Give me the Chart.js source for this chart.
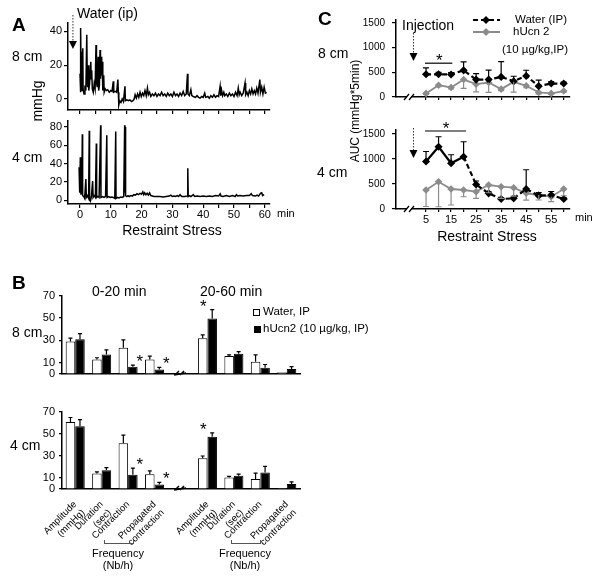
<!DOCTYPE html>
<html>
<head>
<meta charset="utf-8">
<script src="https://cdn.jsdelivr.net/npm/chart.js@4.4.1/dist/chart.umd.min.js"></script>
<style>
body { margin: 0; background: #fff; }
#fig { position: relative; width: 600px; height: 577px; overflow: hidden; font-family: 'Liberation Sans', Arial, sans-serif; color: #000; }
#fig canvas { position: absolute; }
.t { position: absolute; white-space: nowrap; line-height: 1; transform: translateY(-50%); }
.ct { transform: translate(-50%, -50%); }
.rot { transform: translate(-50%, -50%) rotate(-90deg); }
.L { font-weight: bold; font-size: 19px; }
.brk { position: absolute; height: 3px; border: 1px solid #555; border-top: none; }
</style>
</head>
<body>
<div id="fig">
  <canvas id="a8" width="300" height="130" style="left:0;top:0"></canvas>
  <canvas id="a4" width="300" height="130" style="left:0;top:112px"></canvas>
  <canvas id="b8" width="310" height="100" style="left:0;top:285px"></canvas>
  <canvas id="b4" width="310" height="177" style="left:0;top:400px"></canvas>
  <canvas id="c8" width="300" height="110" style="left:300px;top:0"></canvas>
  <canvas id="c4" width="300" height="140" style="left:300px;top:110px"></canvas>

  <!-- panel A -->
  <div class="t L" style="left:12px;top:24px">A</div>
  <div class="t" style="left:77px;top:13px;font-size:14px">Water (ip)</div>
  <div class="t" style="left:12px;top:56px;font-size:14px">8 cm</div>
  <div class="t" style="left:12px;top:157px;font-size:14px">4 cm</div>
  <div class="t rot" style="left:37px;top:101px;font-size:14px">mmHg</div>
  <div class="t ct" style="left:172px;top:230px;font-size:14px">Restraint Stress</div>
  <div class="t" style="left:277px;top:213px;font-size:11px">min</div>

  <!-- panel B -->
  <div class="t L" style="left:12px;top:282px">B</div>
  <div class="t" style="left:92px;top:291px;font-size:14px">0-20 min</div>
  <div class="t" style="left:200px;top:291px;font-size:14px">20-60 min</div>
  <div class="t" style="left:12px;top:332px;font-size:14px">8 cm</div>
  <div class="t" style="left:10px;top:445px;font-size:14px">4 cm</div>
  <div style="position:absolute;left:253px;top:309px;width:5px;height:5px;border:1px solid #000"></div>
  <div class="t" style="left:263px;top:312px;font-size:11.5px">Water, IP</div>
  <div style="position:absolute;left:254px;top:326px;width:7px;height:7px;background:#000"></div>
  <div class="t" style="left:263px;top:329px;font-size:11.5px">hUcn2 (10 µg/kg, IP)</div>
  <div class="brk" style="left:104px;top:540px;width:28px"></div>
  <div class="t ct" style="left:118px;top:553px;font-size:11px">Frequency</div>
  <div class="t ct" style="left:118px;top:565px;font-size:11px">(Nb/h)</div>
  <div class="brk" style="left:231px;top:540px;width:28px"></div>
  <div class="t ct" style="left:245px;top:553px;font-size:11px">Frequency</div>
  <div class="t ct" style="left:245px;top:565px;font-size:11px">(Nb/h)</div>

  <!-- panel C -->
  <div class="t L" style="left:318px;top:18px">C</div>
  <div class="t" style="left:402px;top:25px;font-size:14px">Injection</div>
  <div class="t" style="left:318px;top:53px;font-size:14px">8 cm</div>
  <div class="t" style="left:317px;top:172px;font-size:14px">4 cm</div>
  <div class="t rot" style="left:355px;top:111px;font-size:12px">AUC (mmHg*5min)</div>
  <div class="t ct" style="left:487px;top:236px;font-size:14px">Restraint Stress</div>
  <div class="t" style="left:575px;top:217px;font-size:11px">min</div>
  <svg style="position:absolute;left:470px;top:12px" width="34" height="26">
    <line x1="3" y1="8" x2="30" y2="8" stroke="#000" stroke-width="2" stroke-dasharray="5,3"/>
    <polygon points="16,4 20,8 16,12 12,8" fill="#000"/>
    <line x1="3" y1="20" x2="30" y2="20" stroke="#8c8c8c" stroke-width="2"/>
    <polygon points="16,16 20,20 16,24 12,20" fill="#8c8c8c"/>
  </svg>
  <div class="t" style="left:515px;top:20px;font-size:11.5px">Water (IP)</div>
  <div class="t" style="left:513px;top:32px;font-size:11.5px">hUcn 2</div>
  <div class="t" style="left:502px;top:50px;font-size:11.5px">(10 µg/kg,IP)</div>
</div>

<script>
// ---- panel A: manometry traces, [min, mmHg]
const trace8cm = [
  [0, 15], [0.1, 4], [0.3, 42], [0.4, 8], [0.6, 28], [0.7, 5], [0.9, 30], [1.0, 6], [1.3, 3], [1.6, 8],
  [1.9, 5], [2.2, 38], [2.35, 10], [2.5, 7], [2.7, 20], [2.85, 5], [3.1, 9], [3.5, 22], [3.65, 12], [3.8, 17],
  [4.0, 6], [4.3, 4], [4.6, 9], [4.9, 6], [5.2, 32], [5.35, 10], [5.6, 7], [5.9, 25], [6.05, 5], [6.3, 8],
  [6.5, 29], [6.65, 12], [6.9, 25], [7.05, 14], [7.2, 22], [7.4, 5], [7.7, 14], [7.85, 4], [8.2, 6], [8.6, 5],
  [9.0, 5.5], [9.5, 4], [10.0, 5], [10.4, 4.5], [10.8, 10.5], [10.95, 4], [11.4, 4.5], [11.9, 4], [12.3, 11.5], [12.45, 4],
  [12.6, -3.5], [12.9, -1], [13.3, -2], [13.7, 0], [14.1, -1.5], [14.6, 7.5], [14.75, -1], [15.2, -0.5], [15.7, -1], [16.2, -0.5],
  [16.7, -1.5], [17.2, -1], [17.6, 0], [17.9, 2.5], [18.3, 0.5], [18.7, 3], [19.1, 1], [19.5, 4], [19.9, 1.5], [20.3, 3.5],
  [20.7, 2], [21.1, 5], [21.5, 2], [21.9, 6.5], [22.2, 2.5], [22.6, 4], [23.0, 1.5], [23.5, 3], [24.0, 2], [24.5, 3.5],
  [25.0, 1.5], [25.5, 3], [26.0, 2], [26.5, 4], [27.0, 2], [27.5, 3], [28.0, 1.5], [28.5, 3.5], [29.0, 2], [29.5, 3],
  [30.0, 1.5], [30.5, 4], [31.0, 2], [31.5, 3], [32.0, 1.5], [32.5, 3.5], [33.0, 2], [33.5, 4.5], [34.0, 2], [34.5, 3],
  [34.9, 15], [35.05, 3], [35.5, 2], [36.0, 5.5], [36.3, 2], [36.8, 1.5], [37.5, 1], [38.0, 2], [38.5, 1], [39.0, 0.5],
  [39.5, 1.5], [40.0, 1], [40.5, 3.5], [40.8, 1], [41.5, 1.5], [42.0, 0.5], [42.5, 2], [43.0, 1], [43.5, 2.5], [44.0, 1],
  [44.5, 2], [45.0, 1.5], [45.5, 7.5], [45.7, 2], [46.0, 5], [46.3, 2], [46.7, 4], [47.0, 2], [47.5, 3], [48.0, 1.5],
  [48.5, 3.5], [49.0, 2], [49.5, 3], [50.0, 1.5], [50.5, 4], [51.0, 2], [51.4, 6.5], [51.7, 2.5], [52.0, 4], [52.5, 2],
  [53.0, 3.5], [53.6, 9.5], [53.8, 2.5], [54.2, 4], [54.6, 2], [55.0, 5], [55.4, 3], [55.8, 6], [56.2, 3], [56.6, 5],
  [57.0, 3], [57.4, 6.5], [57.8, 3.5], [58.4, 11.5], [58.6, 4], [59.0, 7], [59.4, 3], [59.8, 7], [60.2, 3.5], [60.6, 4]
];
const trace4cm = [
  [-0.3, 36], [-0.1, 8], [0.1, 47], [0.3, 6], [0.6, 12], [0.75, 72], [0.85, 5], [1.2, 4], [1.5, 2], [1.9, 23],
  [2.05, 3], [2.4, 5], [2.8, 2], [3.0, 76], [3.1, 1], [3.4, -1], [3.7, 4], [4.1, 21], [4.25, 3], [4.6, 5],
  [5.0, 3], [5.3, 62], [5.4, 3], [5.8, 4], [6.2, 3], [6.7, 82], [6.8, 3], [7.3, 4], [7.8, 3], [8.3, 4],
  [8.7, 71], [8.8, 3], [9.3, 4], [9.8, 3], [10.3, 3.5], [10.8, 3], [11.3, 2], [11.6, 75], [11.7, 2], [12.2, 3],
  [12.7, 2.5], [13.2, 3.5], [13.7, 3], [14.2, 4], [14.5, 82], [14.6, 8], [14.7, 80], [14.8, 5], [15.2, 4], [15.6, 5],
  [16.0, 4], [16.5, 5], [17.0, 4.5], [17.5, 6], [18.0, 5.5], [18.5, 7], [19.0, 6], [19.5, 7.5], [20.0, 6.5], [20.4, 9],
  [20.7, 6], [21.0, 8], [21.4, 6], [21.8, 7.5], [22.2, 5.5], [22.6, 8], [23.0, 5], [23.5, 4.5], [24.0, 4], [25.0, 4],
  [26.0, 4], [27.0, 3.5], [28.0, 4], [29.0, 4.5], [29.5, 5.5], [30.0, 4], [30.5, 4.5], [31.0, 4], [31.6, 5], [32.0, 4],
  [32.5, 6], [33.0, 4], [34.0, 4], [34.8, 4.5], [35.0, 35], [35.15, 4], [35.5, 5], [36.0, 4], [36.8, 6], [37.2, 4],
  [38.0, 4.5], [39.0, 4], [40.0, 4.5], [41.0, 4], [42.0, 4.5], [43.0, 4], [44.0, 5], [45.0, 4.5], [45.5, 7], [45.8, 4.5],
  [46.5, 4], [47.5, 5], [48.5, 4], [49.5, 5], [50.4, 4], [50.8, 6], [51.2, 4.5], [52.0, 5], [53.0, 4.5], [54.0, 5],
  [55.0, 5], [55.6, 7], [56.0, 5], [57.0, 4.5], [57.5, 5.5], [58.0, 4.5], [58.6, 7.5], [59.0, 8], [59.3, 5], [59.8, 6]
];
const traceTicks = [0, 5, 10, 15, 20, 25, 30, 35, 40, 45, 50, 55, 60];
const traceTicks8 = [0, 20, 40];
const traceTicks4 = [0, 20, 40, 60, 80];
const injectionA = -2.3;

// ---- panel B: bar groups, mean and SEM
const barLabels = [['Amplitude', '(mmHg)'], ['Duration', '(sec)'], 'Contraction', ['Propagated', 'contraction'], '',
                   ['Amplitude', '(mmHg)'], ['Duration', '(sec)'], 'Contraction', ['Propagated', 'contraction']];
const barTicks = [0, 10, 30, 50, 70];
const water8 = [29, 13, 23.5, 13, null, 32, 16, 11, 1.5];
const waterErr8 = [3, 1.5, 7, 3, null, 3, 1, 6, 0];
const ucn8 = [31, 17.5, 6.5, 4, null, 49.5, 18, 5.5, 4.5];
const ucnErr8 = [5, 4, 1.5, 2, null, 8, 2, 3, 2];
const water4 = [61, 14, 41.5, 13.5, null, 28, 10.5, 9, 0.8];
const waterErr4 = [4, 1.5, 7.5, 3, null, 2, 1, 5.5, 0];
const ucn4 = [57, 17, 13, 4, null, 47.5, 12, 15, 4.5];
const ucnErr4 = [6, 2.5, 6, 2, null, 3.5, 1.5, 5.5, 2];
const starCats = [2, 3, 5];
const gapCat = 4;

// ---- panel C: AUC per 5 min
const aucMin = [5, 10, 15, 20, 25, 30, 35, 40, 45, 50, 55, 60];
const aucWater8 = [460, 460, 455, 540, 353, 353, 407, 320, 427, 220, 273, 273];
const aucWaterErr8 = [130, 40, 40, 170, 120, 190, 310, 100, 115, 120, 40, 30];
const aucUcn8 = [73, 240, 193, 353, 260, 293, 160, 307, 227, 93, 73, 120];
const aucUcnErr8 = [20, 30, 30, 180, 155, 200, 30, 210, 40, 30, 20, 20];
const aucWater4 = [950, 1245, 915, 1045, 490, 313, 200, 213, 400, 267, 280, 200];
const aucWaterErr4 = [200, 200, 170, 300, 70, 30, 30, 30, 385, 60, 70, 30];
const aucUcn4 = [380, 545, 400, 380, 347, 480, 447, 427, 313, 280, 247, 400];
const aucUcnErr4 = [330, 500, 320, 135, 135, 155, 236, 170, 135, 100, 100, 135];
const aucTicks = [0, 500, 1000, 1500];
const sig8 = { from: 5, to: 15.5, level: 685 };
const sig4 = { from: 5, to: 21, level: 1560 };

Chart.defaults.font.family = "'Liberation Sans', Arial, sans-serif";
Chart.defaults.color = '#000';
Chart.defaults.animation = false;
Chart.defaults.plugins.legend.display = false;
Chart.defaults.plugins.tooltip.enabled = false;

const fixW = w => s => { s.width = w; };
const fixH = h => s => { s.height = h; };
const setTicks = arr => s => { s.ticks = arr.map(value => ({ value })); };
const axisBorder = { color: '#000', width: 1.5 };
const tickGrid = len => ({ drawOnChartArea: false, tickLength: len, color: '#000', lineWidth: 1.2 });

function drawArrow(ctx, x, y0, y1) {
  ctx.save();
  ctx.strokeStyle = '#333';
  ctx.lineWidth = 1;
  ctx.setLineDash([1.5, 1.5]);
  ctx.beginPath(); ctx.moveTo(x, y0); ctx.lineTo(x, y1 - 6); ctx.stroke();
  ctx.setLineDash([]);
  ctx.fillStyle = '#000';
  ctx.beginPath(); ctx.moveTo(x - 4, y1 - 8); ctx.lineTo(x + 4, y1 - 8); ctx.lineTo(x, y1); ctx.closePath(); ctx.fill();
  ctx.restore();
}

function drawStar(ctx, x, y) {
  ctx.save();
  ctx.font = "17px 'Liberation Sans', Arial, sans-serif";
  ctx.textAlign = 'center';
  ctx.textBaseline = 'alphabetic';
  ctx.fillStyle = '#000';
  ctx.fillText('*', x, y + 10);
  ctx.restore();
}

// ---- A
function traceChart(id, trace, yMin, yMax, yTicks, opt) {
  const arrow = {
    id: 'arrow',
    afterDraw(chart) {
      if (!opt.arrow) return;
      const a = chart.chartArea;
      drawArrow(chart.ctx, chart.scales.x.getPixelForValue(injectionA), a.top - 8, a.top + 26);
    }
  };
  return new Chart(document.getElementById(id), {
    type: 'line',
    data: { datasets: [{ data: trace.map(p => ({ x: p[0], y: p[1] })), borderColor: '#000', borderWidth: 1.5, pointRadius: 0, tension: 0 }] },
    options: {
      responsive: false,
      layout: { autoPadding: false, padding: opt.pad },
      scales: {
        x: {
          type: 'linear', min: -3.9, max: 61.7,
          afterFit: fixH(opt.xh), afterBuildTicks: setTicks(traceTicks),
          border: axisBorder, grid: tickGrid(4),
          ticks: { padding: 0, maxRotation: 0, autoSkip: false, font: { size: 11 },
                   callback: v => (opt.labels && v % 10 === 0) ? v : '' }
        },
        y: {
          min: yMin, max: yMax,
          afterFit: fixW(68), afterBuildTicks: setTicks(yTicks),
          border: axisBorder, grid: tickGrid(4),
          ticks: { padding: 2, font: { size: 11 } }
        }
      }
    },
    plugins: [arrow]
  });
}

traceChart('a8', trace8cm, -6.5, 45, traceTicks8, { pad: { top: 23, right: 30, left: 0, bottom: 0 }, xh: 20, arrow: true, labels: false });
traceChart('a4', trace4cm, -4.2, 87, traceTicks4, { pad: { top: 5, right: 30, left: 0, bottom: 0 }, xh: 38, arrow: false, labels: true });

// ---- B
function barChart(id, water, waterErr, ucn, ucnErr, opt) {
  const errs = [waterErr, ucnErr];
  const marks = {
    id: 'marks',
    afterDatasetsDraw(chart) {
      const ctx = chart.ctx, y = chart.scales.y, x = chart.scales.x;
      ctx.save();
      ctx.strokeStyle = '#000';
      ctx.lineWidth = 1.2;
      chart.data.datasets.forEach((ds, d) => {
        chart.getDatasetMeta(d).data.forEach((bar, i) => {
          const v = ds.data[i], e = errs[d][i];
          if (v == null || !e) return;
          const y1 = y.getPixelForValue(v + e);
          ctx.beginPath();
          ctx.moveTo(bar.x, y.getPixelForValue(v)); ctx.lineTo(bar.x, y1);
          ctx.moveTo(bar.x - 2, y1); ctx.lineTo(bar.x + 2, y1);
          ctx.stroke();
        });
      });
      // broken axis mark between the two periods
      const gx = x.getPixelForValue(gapCat), gy = chart.chartArea.bottom;
      ctx.lineWidth = 1.5;
      ctx.beginPath();
      ctx.moveTo(gx - 6, gy + 1); ctx.lineTo(gx - 2, gy - 3);
      ctx.moveTo(gx - 1, gy + 1); ctx.lineTo(gx + 3, gy - 3);
      ctx.moveTo(gx - 7, gy + 1); ctx.lineTo(gx + 5, gy - 1);
      ctx.stroke();
      ctx.restore();
      // significance stars next to hUcn2 bars
      const meta = chart.getDatasetMeta(1).data;
      starCats.forEach(i => {
        const bar = meta[i];
        const top = y.getPixelForValue(ucn[i] + ucnErr[i]);
        drawStar(ctx, bar.x + (i < gapCat ? 7 : -9), top - 8);
      });
    }
  };
  return new Chart(document.getElementById(id), {
    type: 'bar',
    data: {
      labels: barLabels,
      datasets: [
        { data: water, backgroundColor: '#fff', borderColor: '#000', borderWidth: 1 },
        { data: ucn, backgroundColor: '#000', borderColor: '#000', borderWidth: 1 }
      ]
    },
    options: {
      responsive: false,
      layout: { autoPadding: false, padding: opt.pad },
      datasets: { bar: { categoryPercentage: 0.72, barPercentage: 1 } },
      scales: {
        x: {
          afterFit: fixH(opt.xh),
          border: axisBorder, grid: { display: false },
          ticks: { display: opt.labels, autoSkip: false, minRotation: 45, maxRotation: 45, padding: 2, font: { size: 9.5 } }
        },
        y: {
          min: 0, max: 70,
          afterFit: fixW(62), afterBuildTicks: setTicks(barTicks),
          border: axisBorder, grid: tickGrid(3),
          ticks: { padding: 4, font: { size: 11 } }
        }
      }
    },
    plugins: [marks]
  });
}

barChart('b8', water8, waterErr8, ucn8, ucnErr8, { pad: { top: 10, right: 10, left: 0, bottom: 0 }, xh: 11, labels: false });
barChart('b4', water4, waterErr4, ucn4, ucnErr4, { pad: { top: 12, right: 10, left: 0, bottom: 0 }, xh: 88, labels: true });

// ---- C
function aucChart(id, water, waterErr, ucn, ucnErr, yMax, sig, opt) {
  const errs = [waterErr, ucnErr], dirs = [1, -1], cols = ['#000', '#8c8c8c'];
  const extras = {
    id: 'extras',
    afterDatasetsDraw(chart) {
      const ctx = chart.ctx, x = chart.scales.x, y = chart.scales.y, a = chart.chartArea;
      ctx.save();
      ctx.lineWidth = 1.2;
      chart.data.datasets.forEach((ds, d) => {
        ctx.strokeStyle = cols[d];
        chart.getDatasetMeta(d).data.forEach((pt, i) => {
          const y1 = y.getPixelForValue(ds.data[i].y + dirs[d] * errs[d][i]);
          ctx.beginPath();
          ctx.moveTo(pt.x, pt.y); ctx.lineTo(pt.x, y1);
          ctx.moveTo(pt.x - 3, y1); ctx.lineTo(pt.x + 3, y1);
          ctx.stroke();
        });
      });
      // significance bar
      const sy = y.getPixelForValue(sig.level);
      ctx.strokeStyle = '#000';
      ctx.beginPath(); ctx.moveTo(x.getPixelForValue(sig.from) - 1, sy); ctx.lineTo(x.getPixelForValue(sig.to), sy); ctx.stroke();
      drawStar(ctx, (x.getPixelForValue(sig.from) + x.getPixelForValue(sig.to)) / 2, sy - 7);
      // axis break
      const bx = a.left + 12, by = a.bottom;
      ctx.fillStyle = '#fff';
      ctx.fillRect(bx - 1, by - 2, 4, 4);
      ctx.lineWidth = 1.3;
      ctx.beginPath();
      ctx.moveTo(bx - 4, by + 3); ctx.lineTo(bx + 1, by - 3);
      ctx.moveTo(bx + 1, by + 3); ctx.lineTo(bx + 6, by - 3);
      ctx.stroke();
      ctx.restore();
      drawArrow(ctx, x.getPixelForValue(0), a.top + opt.arrow[0], a.top + opt.arrow[1]);
    }
  };
  const pts = vals => aucMin.map((m, i) => ({ x: m, y: vals[i] }));
  return new Chart(document.getElementById(id), {
    type: 'line',
    data: {
      datasets: [
        { data: pts(water), borderColor: '#000', borderWidth: 2.2, borderDash: [5, 3], pointStyle: 'rectRot', pointRadius: 2.5,
          pointBackgroundColor: '#000', pointBorderColor: '#000', segment: opt.segment },
        { data: pts(ucn), borderColor: '#8c8c8c', borderWidth: 1.8, pointStyle: 'rectRot', pointRadius: 2.5,
          pointBackgroundColor: '#8c8c8c', pointBorderColor: '#8c8c8c' }
      ]
    },
    options: {
      responsive: false,
      layout: { autoPadding: false, padding: opt.pad },
      scales: {
        x: {
          type: 'linear', min: -7, max: 62.5,
          afterFit: fixH(opt.xh), afterBuildTicks: setTicks(aucMin),
          border: axisBorder, grid: tickGrid(3),
          ticks: { padding: 1, maxRotation: 0, autoSkip: false, font: { size: 11 },
                   callback: v => (opt.labels && v % 10 === 5) ? v : '' }
        },
        y: {
          min: 0, max: yMax,
          afterFit: fixW(96), afterBuildTicks: setTicks(aucTicks),
          border: axisBorder, grid: tickGrid(4),
          ticks: { padding: 7, font: { size: 10 }, callback: v => String(v) }
        }
      }
    },
    plugins: [extras]
  });
}

aucChart('c8', aucWater8, aucWaterErr8, aucUcn8, aucUcnErr8, 1560, sig8,
  { pad: { top: 20, right: 30, left: 0, bottom: 0 }, xh: 13, labels: false, arrow: [13, 41] });
aucChart('c4', aucWater4, aucWaterErr4, aucUcn4, aucUcnErr4, 1580, sig4,
  { pad: { top: 20, right: 30, left: 0, bottom: 0 }, xh: 41, labels: true, arrow: [-2, 28],
    segment: { borderDash: c => c.p0DataIndex < 3 ? [] : [5, 3] } });
</script>
</body>
</html>
